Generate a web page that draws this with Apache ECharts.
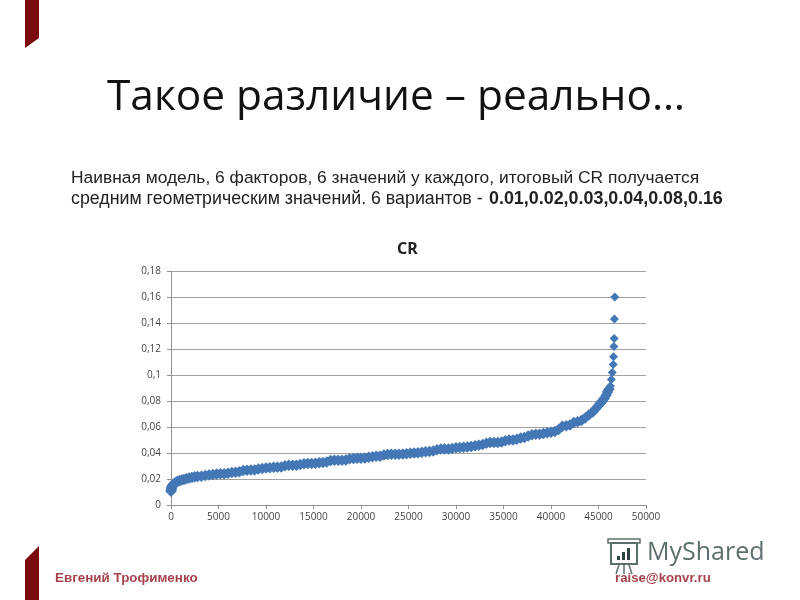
<!DOCTYPE html>
<html>
<head>
<meta charset="utf-8">
<title>CR</title>
<style>
  html, body { margin: 0; padding: 0; background: #fff; }
  #chart { width: 800px; height: 600px; }
</style>
<script src="https://cdn.jsdelivr.net/npm/echarts@6/dist/echarts.min.js"></script>
</head>
<body>
<div id="chart"></div>
<script>
// значения
const variants = [
  0, 20, 40, 70, 110, 160, 230, 320, 430, 560, 720, 900, 1100, 1350, 1600, 1900, 2200, 2500, 2800,
  3200, 3600, 4000, 4400, 4800, 5200, 5600, 6000, 6400, 6800, 7200, 7600, 8000, 8400, 8800, 9200, 9600,
  10000, 10400, 10800, 11200, 11600, 12000, 12400, 12800, 13200, 13600, 14000, 14400, 14800, 15200, 15600,
  16000, 16400, 16800, 17200, 17600, 18000, 18400, 18800, 19200, 19600, 20000, 20400, 20800, 21200, 21600,
  22000, 22400, 22800, 23200, 23600, 24000, 24400, 24800, 25200, 25600, 26000, 26400, 26800, 27200, 27600,
  28000, 28400, 28800, 29200, 29600, 30000, 30400, 30800, 31200, 31600, 32000, 32400, 32800, 33200, 33600,
  34000, 34400, 34800, 35200, 35600, 36000, 36400, 36800, 37200, 37600, 38000, 38400, 38800, 39200, 39600,
  40000, 40400, 40800, 41200, 41600, 42000, 42400, 42800, 43200, 43600, 44000, 44400, 44700, 45000, 45200,
  45400, 45600, 45800, 45950, 46100, 46250, 46350, 46450, 46550, 46580, 46620, 46650, 46680, 46720
];
const crValues = [
  0.0105, 0.0115, 0.0125, 0.0135, 0.0143, 0.015, 0.0157, 0.0163, 0.017, 0.0176, 0.0182, 0.0187, 0.0192, 0.0197, 0.0202, 0.0207, 0.0212, 0.0217, 0.022,
  0.0222, 0.0226, 0.023, 0.0234, 0.0238, 0.024, 0.024, 0.0245, 0.025, 0.0252, 0.0255, 0.0265, 0.0268, 0.027, 0.027, 0.0277, 0.028,
  0.0285, 0.0287, 0.029, 0.029, 0.0292, 0.0302, 0.0305, 0.0305, 0.0305, 0.0312, 0.0317, 0.032, 0.032, 0.0322, 0.0325,
  0.0327, 0.033, 0.0342, 0.0345, 0.0345, 0.0345, 0.0347, 0.0355, 0.0358, 0.036, 0.036, 0.0362, 0.0368, 0.0372, 0.0375,
  0.0375, 0.0385, 0.0388, 0.039, 0.039, 0.039, 0.0392, 0.0395, 0.0398, 0.04, 0.0402, 0.0405, 0.041, 0.0412, 0.0415,
  0.0425, 0.043, 0.043, 0.043, 0.0435, 0.044, 0.0442, 0.0445, 0.0447, 0.045, 0.0455, 0.046, 0.0465, 0.0475, 0.048,
  0.048, 0.048, 0.0485, 0.0495, 0.05, 0.05, 0.0505, 0.0515, 0.052, 0.053, 0.054, 0.0545, 0.0545, 0.055, 0.0555,
  0.056, 0.0565, 0.058, 0.0605, 0.061, 0.0615, 0.0635, 0.064, 0.065, 0.067, 0.0695, 0.0715, 0.074, 0.0765, 0.0785,
  0.08, 0.082, 0.0845, 0.087, 0.089, 0.0915, 0.0965, 0.102, 0.108, 0.114, 0.122, 0.128, 0.143, 0.16
];
const yTickLabels = ['0', '0,02', '0,04', '0,06', '0,08', '0,1', '0,12', '0,14', '0,16', '0,18'];

const slideTitle = 'Такое различие – реально…';
const noteLine1 = 'Наивная модель, 6 факторов, 6 значений у каждого, итоговый CR получается';
const noteLine2 = 'средним геометрическим значений. 6 вариантов - ';
const noteLine2Bold = '0.01,0.02,0.03,0.04,0.08,0.16';
const authorName = 'Евгений Трофименко';
const authorMail = 'raise@konvr.ru';

const darkRed = '#7b0a0e';
const footerRed = '#a5434c';
const logoGrey = '#5d6e6e';

const chart = echarts.init(document.getElementById('chart'));

const option = {
  animation: false,
  backgroundColor: '#fff',
  title: {
    text: 'CR',
    left: 392,
    top: 236,
    textStyle: { fontFamily: 'Noto Sans', fontSize: 16, fontWeight: 'bold', color: '#222' }
  },
  grid: { left: 171, right: 154, top: 271, height: 234 },
  xAxis: {
    type: 'value',
    min: 0,
    max: 50000,
    interval: 5000,
    axisLine: { show: true, lineStyle: { color: '#909090', width: 1 } },
    axisTick: { show: true, length: 4, lineStyle: { color: '#909090' } },
    axisLabel: {
      color: '#444',
      fontSize: 10,
      fontFamily: 'Open Sans',
      margin: 7,
      formatter: function (v) { return String(v); }
    },
    splitLine: { show: false }
  },
  yAxis: {
    type: 'value',
    min: 0,
    max: 0.18,
    interval: 0.02,
    axisLine: { show: true, lineStyle: { color: '#909090', width: 1 } },
    axisTick: { show: true, length: 4, lineStyle: { color: '#909090' } },
    axisLabel: {
      color: '#444',
      fontSize: 10,
      fontFamily: 'Open Sans',
      margin: 10,
      formatter: function (v) { return yTickLabels[Math.round(v / 0.02)]; }
    },
    splitLine: { show: true, lineStyle: { color: '#a2a2a2', width: 1 } }
  },
  series: [
    {
      name: 'CR',
      type: 'scatter',
      symbol: 'diamond',
      // плотная полоса толще, отдельные точки наверху мельче
      symbolSize: function (d) { return d[1] < 0.09 ? 11.5 : 9; },
      itemStyle: { color: '#4477b5', opacity: 1 },
      data: variants.map(function (x, i) { return [x, crValues[i]]; })
    }
  ],
  graphic: [
    // ленточки слайда
    { type: 'polygon', shape: { points: [[25, 0], [39, 0], [39, 38], [25, 48]] }, style: { fill: darkRed } },
    { type: 'polygon', shape: { points: [[25, 560], [39, 546], [39, 600], [25, 600]] }, style: { fill: darkRed } },
    // заголовок и пояснение
    { type: 'text', x: 107, y: 98, style: { text: slideTitle, fontFamily: 'Open Sans', fontSize: 42.4, fill: '#111', verticalAlign: 'middle' } },
    { type: 'text', x: 71, y: 178, style: { text: noteLine1, fontFamily: 'Liberation Sans', fontSize: 17.4, fill: '#222', verticalAlign: 'middle' } },
    { type: 'text', x: 71, y: 199, style: { text: noteLine2, fontFamily: 'Liberation Sans', fontSize: 17.8, fill: '#222', verticalAlign: 'middle' } },
    { type: 'text', x: 489, y: 199, style: { text: noteLine2Bold, fontFamily: 'Liberation Sans', fontSize: 17.9, fontWeight: 'bold', fill: '#222', verticalAlign: 'middle' } },
    // подвал
    { type: 'text', x: 55, y: 578, style: { text: authorName, fontFamily: 'Liberation Sans', fontSize: 13.4, fontWeight: 'bold', fill: footerRed, verticalAlign: 'middle' } },
    { type: 'text', x: 615, y: 578, style: { text: authorMail, fontFamily: 'Liberation Sans', fontSize: 13.2, fontWeight: 'bold', fill: footerRed, verticalAlign: 'middle' } },
    // логотип
    { type: 'text', x: 647, y: 553, style: { text: 'MyShared', fontFamily: 'Open Sans', fontSize: 25, fill: logoGrey, verticalAlign: 'middle' } },
    { type: 'rect', shape: { x: 611, y: 543, width: 26, height: 21 }, style: { fill: 'none', stroke: logoGrey, lineWidth: 2 } },
    { type: 'rect', shape: { x: 608, y: 539, width: 32, height: 4 }, style: { fill: 'none', stroke: logoGrey, lineWidth: 1.5 } },
    { type: 'rect', shape: { x: 617, y: 556, width: 3, height: 4 }, style: { fill: '#2e4444' } },
    { type: 'rect', shape: { x: 622, y: 552, width: 3, height: 8 }, style: { fill: '#2e4444' } },
    { type: 'rect', shape: { x: 627, y: 548, width: 3, height: 12 }, style: { fill: '#2e4444' } },
    { type: 'line', shape: { x1: 619, y1: 565, x2: 616, y2: 574 }, style: { stroke: logoGrey, lineWidth: 1.5 } },
    { type: 'line', shape: { x1: 624, y1: 565, x2: 624, y2: 574 }, style: { stroke: logoGrey, lineWidth: 1.5 } },
    { type: 'line', shape: { x1: 629, y1: 565, x2: 632, y2: 574 }, style: { stroke: logoGrey, lineWidth: 1.5 } }
  ]
};

chart.setOption(option);
</script>
</body>
</html>
